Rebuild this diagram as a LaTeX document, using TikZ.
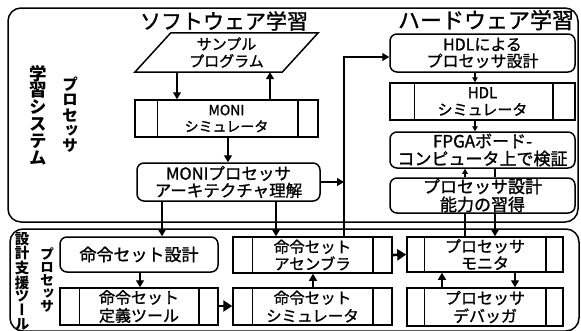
\documentclass[tikz,border=0pt]{standalone}
\usepackage{fontspec}
\newfontfamily\jp[FakeBold=1.2]{Noto Sans CJK JP}
\newfontfamily\jpv[RawFeature=+vert]{Noto Sans CJK JP}
\usetikzlibrary{arrows.meta}
\begin{document}
\begin{tikzpicture}[x=1pt,y=-1pt,
  every node/.style={inner sep=0pt, align=center},
  fs/.style 2 args={font=\jp\fontsize{#1}{#2}\selectfont},
  vfs/.style 2 args={font=\jpv\bfseries\fontsize{#1}{#2}\selectfont},
  box/.style={draw, line width=1.5pt},
  rbox/.style={draw, line width=1.5pt, rounded corners=7pt},
  pbox/.style={draw=none},
  frame/.style={draw, line width=1.5pt, rounded corners=13pt},
  link/.style={line width=1.4pt},
  thinlink/.style={line width=1.1pt},
  arr/.style={line width=1.4pt, -{Triangle[length=7pt,width=8pt]}},
  sarr/.style={line width=1.1pt, -{Triangle[length=5pt,width=5.5pt]}},
  tarr/.style={line width=2.6pt, -{Triangle[length=9pt,width=11pt]}}]
\useasboundingbox (0,0) rectangle (581,330);
\fill[white] (0,0) rectangle (581,330);
% frames
\draw[frame] (8,8) rectangle (578,222);
\draw[frame] (10,229) rectangle (579,331);
% titles
\node[fs={21}{23}] (t1) at (224,21) {ソフトウェア学習};
\node[fs={22}{24}] (t2) at (486,20) {ハードウェア学習};
% vertical labels
\node[vfs={17.5}{16.8}] (v1) at (38,115) {学\\習\\シ\\ス\\テ\\ム};
\node[vfs={16}{15.3}] (v2) at (70,115) {プ\\ロ\\セ\\ッ\\サ};
\node[vfs={14.5}{13.6}] (v3) at (22,281) {設\\計\\支\\援\\ツ\\ー\\ル};
\node[vfs={14}{12.9}] (v4) at (47,280) {プ\\ロ\\セ\\ッ\\サ};
% software column
\node[pbox, minimum width=147pt, minimum height=39pt, fs={15}{17}] (sp) at (226.5,52.5) {サンプル\\プログラム};
\draw[box] ([xshift=-18pt]sp.south west) -- ([xshift=18pt]sp.north west) -- ([xshift=18pt]sp.north east) -- ([xshift=-18pt]sp.south east) -- cycle;
\node[box, minimum width=183pt, minimum height=37pt, fs={14}{16.5}] (msim) at (226.5,118.5) {MONI\\シミュレータ};
\node[rbox, minimum width=183pt, minimum height=38pt, fs={16.5}{17}] (march) at (228.5,182) {MONIプロセッサ\\アーキテクチャ理解};
% hardware column
\node[rbox, minimum width=185pt, minimum height=38pt, fs={16}{16.5}] (hdl) at (482.5,53) {HDLによる\\プロセッサ設計};
\node[box, minimum width=185pt, minimum height=37pt, fs={15}{17}] (hsim) at (482.5,101.5) {HDL\\シミュレータ};
\node[rbox, minimum width=185pt, minimum height=36pt, fs={17}{17.5}] (fpga) at (482.5,150) {FPGAボード-\\コンピュータ上で検証};
\node[rbox, minimum width=185pt, minimum height=35pt, fs={17}{18}] (abil) at (482.5,195.5) {プロセッサ設計\\能力の習得};
% tools
\node[rbox, minimum width=158pt, minimum height=35pt, fs={17}{18}] (isa) at (139,254.5) {命令セット設計};
\node[box, minimum width=159pt, minimum height=36pt, fs={15.5}{17}] (asm) at (312.5,255) {命令セット\\アセンブラ};
\node[box, minimum width=156pt, minimum height=35pt, fs={16}{17}] (mon) at (485,254.5) {プロセッサ\\モニタ};
\node[box, minimum width=158pt, minimum height=37pt, fs={16}{18}] (def) at (139,306.5) {命令セット\\定義ツール};
\node[box, minimum width=159pt, minimum height=37pt, fs={15.5}{18}] (isim) at (312.5,306.5) {命令セット\\シミュレータ};
\node[box, minimum width=156pt, minimum height=38pt, fs={16}{18}] (dbg) at (485,307) {プロセッサ\\デバッガ};
% inner lines of process boxes
\foreach \n/\a/\b in {msim/23/21, hsim/25/23, asm/20/20, mon/18/18, def/20/20, isim/20/20, dbg/18/18}
  \draw[line width=1.5pt] ([xshift=\a pt]\n.north west) -- ([xshift=\a pt]\n.south west)
                          ([xshift=-\b pt]\n.north east) -- ([xshift=-\b pt]\n.south east);
% connectors
\coordinate (jt) at (344,57);
\draw[arr] (sp.south -| 177,0) -- (msim.north -| 177,0);
\draw[arr] (msim.north -| 270,0) -- (sp.south -| 270,0);
\draw[arr] (msim.south -| 228,0) -- (march.north -| 228,0);
\draw[arr] (asm.north -| jt) |- (hdl.west |- jt);
\draw[arr] (march.east) -- (march.east -| jt);
\draw[sarr] (hdl.south -| 475,0) -- (hsim.north -| 475,0);
\draw[sarr] (hsim.south -| 475,0) -- (fpga.north -| 475,0);
\draw[sarr] (abil.north -| 465,0) -- (fpga.south -| 465,0);
\draw[thinlink] (fpga.south -| 495,0) -- (abil.north -| 495,0);
\draw[link] (mon.north -| 465,0) -- (abil.south -| 465,0);
\draw[arr] (abil.south -| 495,0) -- (mon.north -| 495,0);
\draw[arr] (march.south -| 162,0) -- (isa.north -| 162,0);
\draw[arr] (march.south -| 276,0) -- (asm.north -| 276,0);
\draw[arr] (isa.south -| 140,0) -- (def.north -| 140,0);
\draw[tarr] (def.east |- 0,306) -- (isim.west |- 0,306);
\draw[arr] (isim.north -| 313,0) -- (asm.south -| 313,0);
\draw[tarr] (asm.east) -- (mon.west);
\draw[arr] (dbg.north -| 442,0) -- (mon.south -| 442,0);
\draw[arr] (mon.south -| 515,0) -- (dbg.north -| 515,0);
\end{tikzpicture}
\end{document}
